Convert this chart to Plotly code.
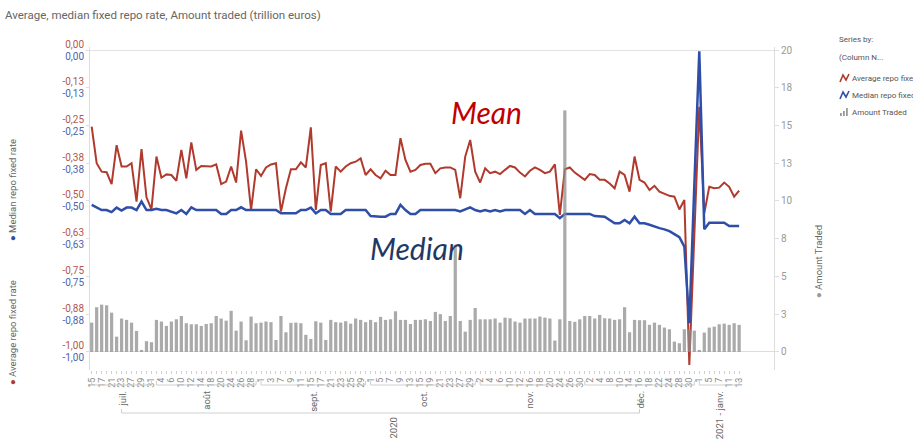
import plotly.graph_objects as go
import pandas as pd

# ---------------- data ----------------
trade_dates = pd.bdate_range("2020-07-15", "2021-01-13")
categories = [d.strftime("%Y-%m-%d") for d in trade_dates]
day_tick_labels = [str(d.day) if i % 2 == 0 else "" for i, d in enumerate(trade_dates)]

avg_repo_rate = [
    -0.254, -0.375, -0.403, -0.405, -0.444, -0.315, -0.386, -0.386, -0.375, -0.502,
    -0.328, -0.488, -0.528, -0.353, -0.423, -0.412, -0.414, -0.433, -0.331, -0.425,
    -0.306, -0.397, -0.384, -0.384, -0.386, -0.379, -0.444, -0.436, -0.386, -0.439,
    -0.267, -0.370, -0.530, -0.395, -0.417, -0.389, -0.379, -0.375, -0.535, -0.458,
    -0.395, -0.395, -0.372, -0.389, -0.256, -0.530, -0.381, -0.375, -0.535, -0.386,
    -0.403, -0.386, -0.375, -0.370, -0.359, -0.414, -0.395, -0.414, -0.425, -0.400,
    -0.414, -0.414, -0.292, -0.364, -0.403, -0.397, -0.381, -0.377, -0.377, -0.408,
    -0.392, -0.389, -0.389, -0.397, -0.491, -0.353, -0.298, -0.403, -0.439, -0.392,
    -0.408, -0.403, -0.411, -0.397, -0.384, -0.389, -0.406, -0.419, -0.400, -0.389,
    -0.397, -0.408, -0.403, -0.379, -0.546, -0.395, -0.389, -0.406, -0.419, -0.430,
    -0.411, -0.414, -0.430, -0.430, -0.442, -0.458, -0.403, -0.414, -0.469, -0.353,
    -0.430, -0.439, -0.464, -0.450, -0.469, -0.475, -0.483, -0.486, -0.528, -0.497,
    -1.043, -0.615, -0.188, -0.541, -0.453, -0.458, -0.456, -0.439, -0.453, -0.486,
    -0.466,
]

median_repo_rate = [
    -0.513, -0.521, -0.530, -0.530, -0.537, -0.522, -0.532, -0.522, -0.522, -0.530,
    -0.502, -0.530, -0.530, -0.526, -0.530, -0.530, -0.535, -0.541, -0.530, -0.543,
    -0.521, -0.530, -0.530, -0.530, -0.530, -0.530, -0.543, -0.543, -0.530, -0.530,
    -0.521, -0.530, -0.530, -0.530, -0.530, -0.530, -0.530, -0.530, -0.541, -0.541,
    -0.541, -0.541, -0.530, -0.530, -0.522, -0.541, -0.530, -0.530, -0.543, -0.543,
    -0.543, -0.530, -0.530, -0.530, -0.530, -0.530, -0.550, -0.552, -0.552, -0.552,
    -0.543, -0.543, -0.513, -0.530, -0.543, -0.543, -0.530, -0.530, -0.530, -0.530,
    -0.530, -0.530, -0.530, -0.530, -0.535, -0.528, -0.521, -0.530, -0.535, -0.530,
    -0.535, -0.530, -0.535, -0.530, -0.530, -0.530, -0.530, -0.543, -0.530, -0.543,
    -0.543, -0.543, -0.543, -0.543, -0.557, -0.543, -0.543, -0.543, -0.543, -0.543,
    -0.543, -0.550, -0.552, -0.552, -0.563, -0.574, -0.574, -0.563, -0.574, -0.552,
    -0.574, -0.574, -0.579, -0.585, -0.590, -0.594, -0.600, -0.610, -0.620, -0.651,
    -0.905, -0.450, -0.004, -0.594, -0.572, -0.572, -0.572, -0.572, -0.583, -0.583,
    -0.583,
]

amount_traded = [
    1.94, 2.96, 3.13, 3.09, 2.60, 1.01, 2.21, 2.12, 1.94, 1.39,
    0.13, 0.71, 0.64, 2.12, 2.01, 1.72, 2.01, 2.16, 2.38, 1.90,
    1.83, 1.83, 1.72, 1.85, 1.90, 2.38, 2.21, 2.07, 2.72, 1.41,
    2.01, 0.77, 2.34, 1.90, 1.94, 2.01, 1.97, 0.79, 2.38, 1.30,
    1.92, 1.94, 1.90, 1.13, 0.86, 2.03, 1.94, 0.79, 2.12, 1.97,
    1.94, 2.03, 1.87, 2.21, 2.12, 1.97, 2.12, 1.97, 2.32, 2.12,
    2.16, 2.69, 2.12, 2.12, 1.85, 2.12, 2.12, 2.16, 2.05, 2.65,
    2.50, 2.05, 2.38, 7.10, 2.05, 1.34, 2.12, 2.91, 2.16, 2.16,
    2.16, 2.21, 1.94, 2.27, 2.23, 2.01, 1.94, 2.21, 2.21, 2.21,
    2.34, 2.27, 2.21, 0.75, 2.16, 16.0, 2.05, 1.99, 2.16, 2.38,
    2.38, 2.21, 2.45, 2.23, 2.21, 2.12, 2.16, 2.96, 1.30, 2.12,
    2.10, 2.10, 1.79, 1.94, 1.79, 1.61, 1.50, 0.68, 0.57, 1.50,
    1.50, 1.41, 0.13, 1.28, 1.61, 1.67, 1.83, 1.87, 1.79, 1.90,
    1.79,
]

rate_tick_values = [0, -0.125, -0.25, -0.375, -0.5, -0.625, -0.75, -0.875, -1.0]
rate_tick_labels = ["0,00", "-0,13", "-0,25", "-0,38", "-0,50", "-0,63", "-0,75", "-0,88", "-1,00"]
amount_tick_values = [0, 2.5, 5, 7.5, 10, 12.5, 15, 17.5, 20]
amount_tick_labels = ["0", "3", "5", "8", "10", "13", "15", "18", "20"]
month_names = {7: "juil.", 8: "août", 9: "sept.", 10: "oct.", 11: "nov.", 12: "déc.", 1: "2021 - janv."}
series_names = ["Average repo fixed rate", "Median repo fixed rate", "Amount Traded"]

assert len(categories) == len(avg_repo_rate) == len(median_repo_rate) == len(amount_traded)

# ---------------- styling ----------------
RED = "#b03a2e"
BLUE = "#2f4ea8"
GRAY_BAR = "#8e8e8e"
FONT = "Roboto"
W, H = 913, 442
L, R, T, B = 90, 774, 47, 370


def px_x(p):
    return (p - L) / (R - L)


def px_y(p):
    return (B - p) / (B - T)


fig = go.Figure()
fig.add_trace(go.Scatter(x=categories, y=avg_repo_rate, name=series_names[0], mode="lines",
                         line=dict(color=RED, width=2), yaxis="y"))
fig.add_trace(go.Scatter(x=categories, y=median_repo_rate, name=series_names[1], mode="lines",
                         line=dict(color=BLUE, width=2.5), yaxis="y2"))
fig.add_trace(go.Bar(x=categories, y=amount_traded, name=series_names[2],
                     marker=dict(color=GRAY_BAR, line=dict(width=0)), opacity=0.75, yaxis="y3"))

# month / year groups
groups = []
for i, d in enumerate(trade_dates):
    key = (d.year, d.month)
    if not groups or groups[-1][0] != key:
        groups.append([key, i, i])
    else:
        groups[-1][2] = i

shapes = []
annotations = []
line_style = dict(color="#cfcfcf", width=1)


def bracket(x0, x1, ypix, up=4):
    shapes.append(dict(type="line", xref="x", yref="paper", x0=x0, x1=x1,
                       y0=px_y(ypix), y1=px_y(ypix), line=line_style))
    for xx in (x0, x1):
        shapes.append(dict(type="line", xref="x", yref="paper", x0=xx, x1=xx,
                           y0=px_y(ypix), y1=px_y(ypix - up), line=line_style))


centers_2020 = []
for (yr, mo), a, b in groups:
    bracket(a, b, 385)
    c = (a + b) / 2
    annotations.append(dict(text=month_names[mo], xref="x", yref="paper", x=c, y=px_y(389),
                            textangle=-90, xanchor="center", yanchor="top", showarrow=False,
                            font=dict(size=9.5, color="#666", family=FONT)))
    if yr == 2020:
        centers_2020.append((c, a, b))

bracket(centers_2020[0][0], centers_2020[-1][0], 413)
annotations.append(dict(text="2020", xref="x", yref="paper",
                        x=(centers_2020[0][1] + centers_2020[-1][2]) / 2, y=px_y(416),
                        textangle=-90, xanchor="center", yanchor="top", showarrow=False,
                        font=dict(size=9.5, color="#666", family=FONT)))

# axis titles (rotated)
annotations += [
    dict(text=f"<span style='color:{BLUE}'>●</span> Median repo fixed rate", xref="paper", yref="paper",
         x=px_x(12), y=px_y(190), textangle=-90, showarrow=False, xanchor="center", yanchor="middle",
         font=dict(size=9.5, color="#666", family=FONT)),
    dict(text=f"<span style='color:{RED}'>●</span> Average repo fixed rate", xref="paper", yref="paper",
         x=px_x(12), y=px_y(333), textangle=-90, showarrow=False, xanchor="center", yanchor="middle",
         font=dict(size=9.5, color="#666", family=FONT)),
    dict(text="<span style='color:#9a9a9a'>●</span> Amount Traded", xref="paper", yref="paper",
         x=px_x(818), y=px_y(262), textangle=-90, showarrow=False, xanchor="center", yanchor="middle",
         font=dict(size=9.5, color="#666", family=FONT)),
]

# overlay texts
annotations += [
    dict(text="<i>Mean</i>", xref="paper", yref="paper", x=px_x(486), y=px_y(112), showarrow=False,
         xanchor="center", yanchor="middle", font=dict(size=30, color="#c00000", family="Lato")),
    dict(text="<i>Median</i>", xref="paper", yref="paper", x=px_x(417), y=px_y(248), showarrow=False,
         xanchor="center", yanchor="middle", font=dict(size=30, color="#1f3864", family="Lato")),
]

# legend (text + small icons)
leg_font = dict(size=8, color="#555", family=FONT)
annotations += [
    dict(text="Series by:", xref="paper", yref="paper", x=px_x(837), y=px_y(40), showarrow=False,
         xanchor="left", yanchor="middle", font=leg_font),
    dict(text="(Column N...", xref="paper", yref="paper", x=px_x(837), y=px_y(57), showarrow=False,
         xanchor="left", yanchor="middle", font=leg_font),
]
for k, (name, ypx) in enumerate(zip(series_names, [78, 95, 112])):
    annotations.append(dict(text=name, xref="paper", yref="paper", x=px_x(850), y=px_y(ypx),
                            showarrow=False, xanchor="left", yanchor="middle", font=leg_font))
    if k < 2:
        col = RED if k == 0 else BLUE
        pts = [(840, ypx + 4), (843, ypx - 3), (846, ypx + 2), (849, ypx - 4)]
        path = "M " + " L ".join(f"{px_x(a):.5f},{px_y(b):.5f}" for a, b in pts)
        shapes.append(dict(type="path", xref="paper", yref="paper", path=path,
                           line=dict(color=col, width=1.6)))
    else:
        for j, hgt in enumerate([3, 5, 8]):
            shapes.append(dict(type="rect", xref="paper", yref="paper",
                               x0=px_x(840 + 3 * j), x1=px_x(841.8 + 3 * j),
                               y0=px_y(ypx + 4), y1=px_y(ypx + 4 - hgt),
                               line=dict(width=0), fillcolor="#9a9a9a"))

fig.update_layout(
    width=W, height=H,
    margin=dict(l=L, r=W - R, t=T, b=H - B, autoexpand=False),
    paper_bgcolor="white", plot_bgcolor="white",
    showlegend=False,
    bargap=0.35,
    font=dict(family=FONT, color="#666"),
    title=dict(text="Average, median fixed repo rate, Amount traded (trillion euros)",
               xref="container", x=5 / W, xanchor="left", yref="container", y=1 - 15 / H, yanchor="middle",
               font=dict(size=11.5, color="#666", family=FONT)),
    xaxis=dict(type="category", range=[-0.34, 137.0], tickmode="array", tickvals=categories,
               ticktext=day_tick_labels, tickangle=-90, tickfont=dict(size=9, color="#888"),
               ticks="outside", ticklen=3, tickcolor="#d0d0d0", showgrid=False, showline=False,
               zeroline=False, automargin=False),
    yaxis=dict(range=[-1.06, 0.01], tickmode="array", tickvals=rate_tick_values, ticktext=rate_tick_labels,
               tickfont=dict(size=10, color="#b5574c"), ticklabelshift=-6, showgrid=False,
               showline=True, linecolor="#dddddd", ticks="outside", ticklen=3, tickcolor="#dddddd",
               zeroline=True, zerolinecolor="#e2e2e2", zerolinewidth=1, automargin=False),
    yaxis2=dict(range=[-1.06, 0.01], overlaying="y", side="left", tickmode="array",
                tickvals=rate_tick_values, ticktext=rate_tick_labels,
                tickfont=dict(size=10, color="#4f63aa"), ticklabelshift=6, showgrid=False,
                showline=False, zeroline=False, ticks="outside", ticklen=3, tickcolor="#dddddd",
                automargin=False),
    yaxis3=dict(range=[-1.2, 20.2], overlaying="y", side="right", tickmode="array",
                tickvals=amount_tick_values, ticktext=amount_tick_labels,
                tickfont=dict(size=10, color="#999"), showgrid=False, showline=True,
                linecolor="#dddddd", ticks="outside", ticklen=4, tickcolor="#dddddd",
                zeroline=True, zerolinecolor="#dddddd", zerolinewidth=1, automargin=False),
    shapes=shapes,
    annotations=annotations,
)

fig.write_html("out.html", config={"displayModeBar": False},
               post_script="document.body.style.margin='0';document.body.style.padding='0';")
